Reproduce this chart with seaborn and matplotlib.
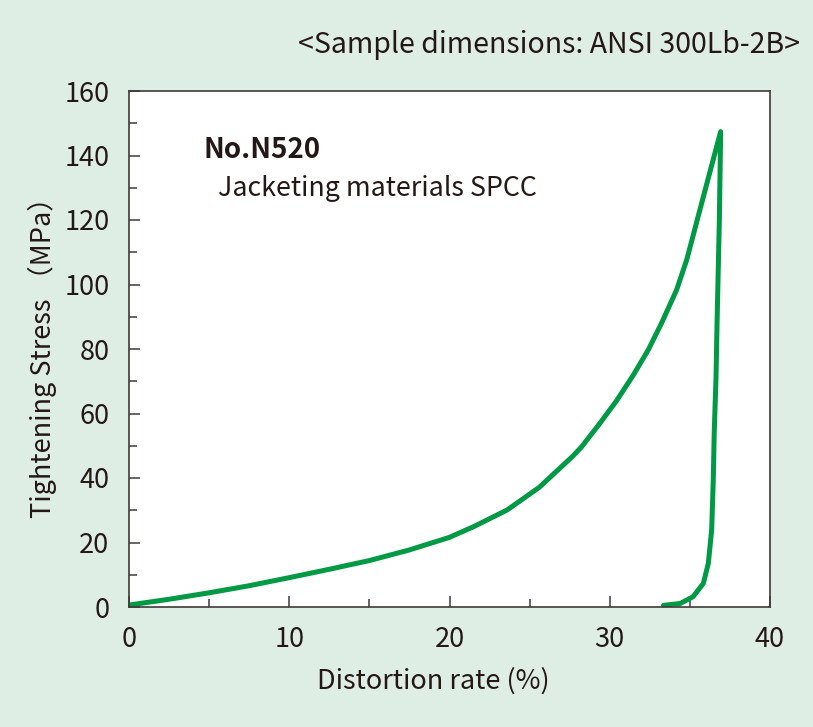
import numpy as np
import pandas as pd
import seaborn as sns
import matplotlib.pyplot as plt
from matplotlib.ticker import MultipleLocator

# loading curve
load_x = [0, 2.5, 5, 7.5, 10, 12.5, 15, 17.5, 20, 21.5, 23.6, 25.6, 27.7, 28.25,
          29.39, 30.43, 31.47, 32.4, 33.23, 34.17, 34.8, 35.84, 36.92]
load_y = [0.6, 2.4, 4.4, 6.6, 9.1, 11.7, 14.4, 17.7, 21.6, 24.9, 30.1, 37.1, 46.8, 49.7,
          57.0, 64.0, 71.9, 79.7, 88.0, 98.3, 107.6, 127.2, 147.4]

# unloading curve
unload_x = [36.92, 36.84, 36.7, 36.63, 36.52, 36.46, 36.36, 36.15, 35.84, 35.2, 34.4, 33.35]
unload_y = [147.4, 120, 89, 71, 54, 39.4, 23.9, 13.5, 7.3, 3.2, 1.1, 0.5]

x_ticks = [0, 10, 20, 30, 40]
y_ticks = [0, 20, 40, 60, 80, 100, 120, 140, 160]

dados = pd.DataFrame({
    "Distortion": load_x + unload_x,
    "Stress": load_y + unload_y,
})

sns.set_style("ticks")
plt.rcParams['font.family'] = ['Noto Sans CJK JP', 'DejaVu Sans']

bg = "#dfeee5"
green = "#009944"
dark = "#3e3a39"
txt = "#231815"

fig = plt.figure(figsize=(8.13, 7.27), dpi=100, facecolor=bg)
ax = fig.add_axes([129 / 813, 1 - 607 / 727, (770 - 129) / 813, (607 - 91) / 727])
ax.set_facecolor("white")

sns.lineplot(data=dados, x="Distortion", y="Stress", sort=False, estimator=None,
             color=green, linewidth=3.6, ax=ax)
ax.lines[0].set_solid_joinstyle("round")

ax.set_xlim(0, 40)
ax.set_ylim(0, 160)
ax.set_xticks(x_ticks)
ax.set_yticks(y_ticks)
ax.xaxis.set_minor_locator(MultipleLocator(5))
ax.yaxis.set_minor_locator(MultipleLocator(10))
ax.tick_params(which="major", direction="in", length=8, width=1.1, color=dark,
               labelsize=19.5, labelcolor=txt, pad=14)
ax.tick_params(which="minor", direction="in", length=6, width=1.1, color=dark)
ax.tick_params(top=False, right=False, which="both")
for s in ax.spines.values():
    s.set_color(dark)
    s.set_linewidth(1.2)

ax.set_xlabel("Distortion rate (%)", fontsize=19.5, color=txt)
ax.xaxis.set_label_coords(0.475, -0.118)
ax.set_ylabel("Tightening Stress （MPa）", fontsize=19.5, color=txt)
ax.yaxis.set_label_coords(-0.113, 0.497)

ax.text(0.117, 0.885, "No.N520", transform=ax.transAxes, fontsize=20,
        fontweight="bold", color=txt, va="center")
ax.text(0.139, 0.812, "Jacketing materials SPCC", transform=ax.transAxes,
        fontsize=19.3, color=txt, va="center")
fig.text(800 / 813, 1 - 45 / 727, "<Sample dimensions: ANSI 300Lb-2B>",
         fontsize=20.5, color=txt, ha="right", va="center")

fig.savefig("out.png", dpi=100, facecolor=bg)
